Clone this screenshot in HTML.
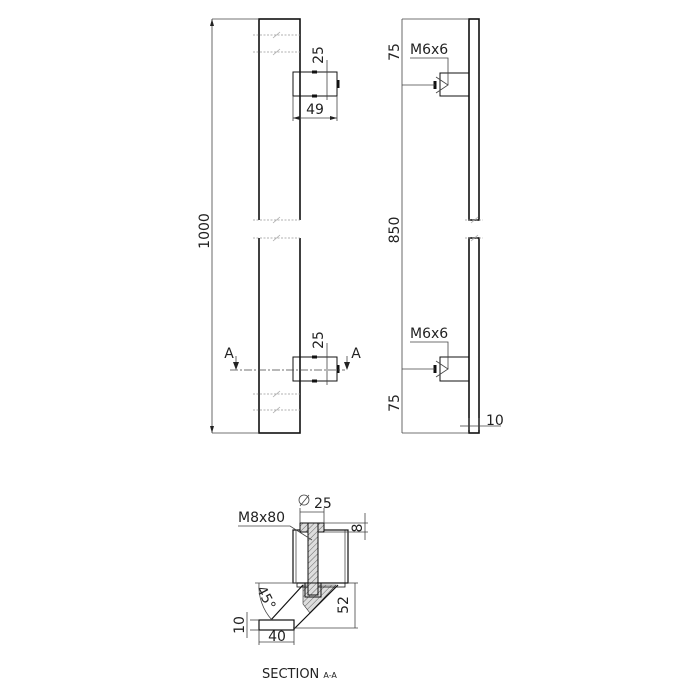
<!DOCTYPE html>
<html><head><style>body{margin:0;background:#fff}svg{display:block}text{font-family:"DejaVu Sans","Liberation Sans",sans-serif;fill:#222}</style></head><body>
<svg width="700" height="700" viewBox="0 0 700 700" xmlns="http://www.w3.org/2000/svg">
<defs><pattern id="h" width="4" height="4" patternUnits="userSpaceOnUse" patternTransform="rotate(45)"><rect width="4" height="4" fill="#ddd"/><line x1="0" y1="0" x2="0" y2="4" stroke="#666" stroke-width="1"/></pattern></defs>
<g fill="none" stroke="#111" stroke-width="1.6">
<rect x="259" y="19" width="41" height="414"/>
<rect x="293" y="72" width="44" height="24" stroke-width="1"/>
<rect x="293" y="357" width="44" height="24" stroke-width="1"/>
<rect x="469" y="19" width="10" height="201"/>
<rect x="469" y="238" width="10" height="195"/>
<rect x="440" y="73" width="29" height="23" stroke-width="1"/>
<rect x="440" y="357" width="29" height="24" stroke-width="1"/>
</g>
<g fill="#fff" stroke="none"><rect x="256" y="220" width="47" height="18"/></g>
<g stroke="#999" stroke-width="0.8" stroke-dasharray="2,1.5">
<line x1="253" y1="35" x2="300" y2="35"/><line x1="253" y1="52" x2="300" y2="52"/>
<line x1="253" y1="220" x2="300" y2="220"/><line x1="253" y1="238" x2="300" y2="238"/>
<line x1="253" y1="394" x2="300" y2="394"/><line x1="253" y1="410" x2="300" y2="410"/>
<line x1="465" y1="220" x2="483" y2="220"/><line x1="465" y1="238" x2="483" y2="238"/>
</g>
<g stroke="#aaa" stroke-width="0.8">
<line x1="273" y1="38" x2="280" y2="32"/><line x1="273" y1="55" x2="280" y2="49"/>
<line x1="273" y1="223" x2="280" y2="217"/><line x1="273" y1="241" x2="280" y2="235"/>
<line x1="273" y1="397" x2="280" y2="391"/><line x1="273" y1="413" x2="280" y2="407"/>
<line x1="471" y1="223" x2="478" y2="217"/><line x1="471" y1="241" x2="478" y2="235"/>
</g>
<g stroke="#111" stroke-width="3">
<line x1="312" y1="72" x2="317" y2="72"/><line x1="312" y1="96" x2="317" y2="96"/><line x1="338" y1="80" x2="338" y2="88"/>
<line x1="312" y1="357" x2="317" y2="357"/><line x1="312" y1="381" x2="317" y2="381"/><line x1="338" y1="365" x2="338" y2="373"/>
<line x1="435" y1="81" x2="435" y2="89"/><line x1="435" y1="365" x2="435" y2="373"/>
</g>
<g fill="none" stroke="#444" stroke-width="0.8">
<line x1="212" y1="19" x2="212" y2="433"/><line x1="212" y1="19" x2="259" y2="19"/><line x1="212" y1="433" x2="259" y2="433"/>
<line x1="327" y1="60" x2="327" y2="100"/><line x1="327" y1="343" x2="327" y2="385"/>
<line x1="293" y1="118" x2="337" y2="118"/><line x1="293" y1="96" x2="293" y2="121"/><line x1="337" y1="96" x2="337" y2="121"/>
<line x1="230" y1="370" x2="345" y2="370" stroke-dasharray="8,2,2,2"/>
<line x1="236" y1="356" x2="236" y2="367"/><line x1="347" y1="356" x2="347" y2="367"/>
<line x1="402" y1="19" x2="402" y2="433"/><line x1="402" y1="19" x2="469" y2="19"/><line x1="402" y1="433" x2="469" y2="433"/>
<line x1="402" y1="85" x2="435" y2="85"/><line x1="402" y1="369" x2="435" y2="369"/>
<polyline points="410,58 448,58 448,85"/><polyline points="410,342 448,342 448,369"/>
<polyline points="436,77 448,85 436,93"/><polyline points="436,361 448,369 436,377"/>
<line x1="469" y1="426" x2="501" y2="426"/><line x1="469" y1="418" x2="469" y2="430"/><line x1="479" y1="418" x2="479" y2="430"/><line x1="460" y1="426" x2="469" y2="426"/>
</g>
<g fill="#222"><polygon points="212,19 210,26 214,26"/><polygon points="212,433 210,426 214,426"/><polygon points="236,370 233,362 239,362"/><polygon points="347,370 344,362 350,362"/><polygon points="293,118 300,116 300,120"/><polygon points="337,118 330,116 330,120"/></g>
<g font-size="14">
<text transform="translate(209,231) rotate(-90)" text-anchor="middle">1000</text>
<text transform="translate(323,55) rotate(-90)" text-anchor="middle">25</text>
<text transform="translate(323,340) rotate(-90)" text-anchor="middle">25</text>
<text x="315" y="114" text-anchor="middle">49</text>
<text x="229" y="358" text-anchor="middle">A</text><text x="356" y="358" text-anchor="middle">A</text>
<text transform="translate(399,52) rotate(-90)" text-anchor="middle">75</text>
<text transform="translate(399,230) rotate(-90)" text-anchor="middle">850</text>
<text transform="translate(399,403) rotate(-90)" text-anchor="middle">75</text>
<text x="410" y="54">M6x6</text><text x="410" y="338">M6x6</text>
<text x="486" y="425">10</text>
<text x="238" y="522">M8x80</text>
<text x="314" y="508">25</text>
<text transform="translate(362,528) rotate(-90)" text-anchor="middle">8</text>
<text transform="translate(348,605) rotate(-90)" text-anchor="middle">52</text>
<text transform="translate(244,625) rotate(-90)" text-anchor="middle">10</text>
<text x="277" y="641" text-anchor="middle">40</text>
<text transform="translate(262,600) rotate(62)" text-anchor="middle">45°</text>
<text x="262" y="678" font-size="13">SECTION <tspan font-size="8">A-A</tspan></text>
</g>
<circle cx="304" cy="500" r="5" fill="none" stroke="#444" stroke-width="0.8"/><line x1="300" y1="506" x2="309" y2="495" stroke="#444" stroke-width="0.8"/>
<polygon points="303,585 336,585 310,613 303,604" fill="url(#h)" stroke="#333" stroke-width="0.6"/>
<g fill="none" stroke="#111" stroke-width="1.2">
<rect x="293" y="530" width="55" height="53"/>
<line x1="296" y1="530" x2="296" y2="583" stroke-width="0.6"/><line x1="345" y1="530" x2="345" y2="583" stroke-width="0.6"/>
<line x1="270" y1="621" x2="303" y2="585"/><line x1="293" y1="630" x2="338" y2="585"/>
<rect x="259" y="620" width="35" height="10" fill="#fff"/>
<rect x="297" y="583" width="48" height="4" stroke-width="0.8"/>
</g>
<rect x="300" y="523" width="24" height="9" fill="url(#h)" stroke="#111" stroke-width="1"/>
<rect x="308" y="523" width="10" height="72" fill="url(#h)" stroke="#111" stroke-width="1"/>
<rect x="305" y="583" width="16" height="14" fill="none" stroke="#111" stroke-width="1"/>
<g fill="none" stroke="#444" stroke-width="0.8">
<polyline points="238,526 290,526 312,540"/>
<line x1="300" y1="508" x2="300" y2="523"/><line x1="324" y1="508" x2="324" y2="523"/><line x1="300" y1="512" x2="324" y2="512"/>
<line x1="324" y1="523" x2="368" y2="523"/><line x1="324" y1="532" x2="368" y2="532"/><line x1="365" y1="513" x2="365" y2="540"/>
<line x1="348" y1="583" x2="358" y2="583"/><line x1="293" y1="628" x2="358" y2="628"/><line x1="355" y1="583" x2="355" y2="628"/>
<line x1="250" y1="620" x2="259" y2="620"/><line x1="250" y1="630" x2="259" y2="630"/><line x1="247" y1="612" x2="247" y2="638"/>
<line x1="259" y1="630" x2="259" y2="645"/><line x1="294" y1="630" x2="294" y2="645"/><line x1="259" y1="642" x2="294" y2="642"/>
<path d="M259,583 A 50 50 0 0 0 272,620"/><line x1="255" y1="583" x2="297" y2="583"/>
</g>
</svg>
</body></html>
